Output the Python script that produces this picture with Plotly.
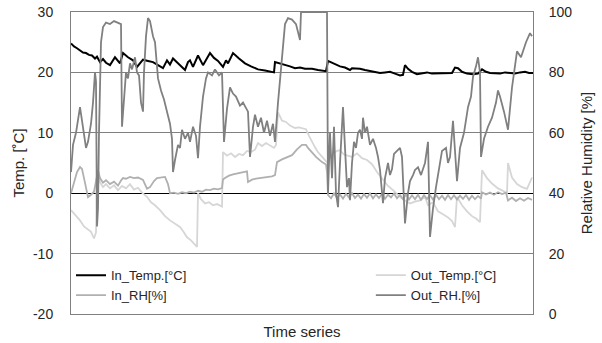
import plotly.graph_objects as go

# Readings as (time step, value) pairs; time steps are arbitrary sequential units
in_temp = [(0,24.8),(3,24.3),(6,24.0),(9,23.6),(12,23.3),(15,23.2),(18,22.9),(21,22.8),(24,22.3),(26,22.6),(29,21.7),(32,22.2),(35,21.6),(39,21.2),(44,22.5),(49,21.5),(52,23.2),(57,22.5),(62,22.0),(66,20.9),(72,22.1),(77,21.9),(82,21.7),(87,21.2),(92,20.7),(96,22.0),(99,21.3),(102,22.3),(107,21.5),(111,20.8),(114,20.4),(117,21.7),(119,22.0),(122,20.9),(127,22.8),(132,21.2),(139,23.2),(143,22.4),(147,21.9),(152,20.9),(155,22.0),(157,21.5),(162,23.2),(168,22.3),(174,21.5),(180,21.0),(187,20.5),(194,20.3),(199,20.2),(203,20.0),(204,21.7),(209,21.5),(214,21.2),(219,21.0),(224,20.7),(229,20.8),(234,20.6),(241,20.6),(247,20.4),(255,20.2),(257,21.9),(263,21.4),(269,21.0),(274,20.8),(279,20.4),(281,20.7),(285,20.7),(289,20.6),(294,20.4),(299,20.2),(304,20.0),(309,19.9),(314,20.0),(319,20.1),(324,19.8),(329,19.5),(332,19.6),(334,21.2),(337,20.6),(341,20.1),(346,19.7),(351,19.8),(356,20.0),(361,19.8),(366,19.8),(371,19.9),(376,19.8),(381,19.9),(384,20.8),(387,20.7),(391,20.1),(396,19.8),(402,19.7),(407,19.8),(411,20.5),(415,20.1),(419,19.9),(424,19.8),(429,19.8),(434,20.0),(439,19.9),(444,19.8),(449,20.0),(454,20.1),(458,19.9),(462,19.9)]

out_temp = [(0,-2.8),(4,-3.6),(9,-4.5),(13,-5.5),(17,-6.0),(20,-6.4),(23,-7.5),(25,-6.5),(26,3.8),(29,1.8),(32,1.0),(35,1.5),(39,0.8),(43,1.3),(47,0.5),(51,1.2),(55,0.8),(59,1.5),(63,0.6),(67,0.9),(71,0.1),(76,-0.6),(80,-1.5),(84,-2.0),(89,-2.8),(94,-3.8),(99,-4.5),(104,-5.0),(109,-5.6),(113,-6.5),(116,-7.3),(120,-7.8),(124,-8.6),(126,-8.9),(127,0.0),(130,-1.0),(134,-1.7),(138,-1.5),(142,-2.0),(146,-1.8),(151,-2.2),(152,6.8),(156,6.2),(160,6.6),(164,6.0),(168,6.5),(172,6.3),(176,7.0),(180,6.8),(184,7.2),(187,8.3),(191,7.8),(195,8.3),(199,7.9),(203,7.5),(205,8.0),(207,13.4),(211,12.0),(215,11.8),(219,11.2),(224,10.8),(228,10.9),(231,10.8),(235,10.6),(238,9.5),(241,8.4),(244,7.6),(247,6.8),(251,6.0),(256,5.1),(259,5.8),(262,6.6),(266,7.0),(269,7.1),(273,6.4),(277,6.2),(281,6.0),(286,6.6),(291,5.8),(296,5.5),(301,4.8),(306,3.5),(312,2.2),(317,1.2),(322,0.5),(329,-0.6),(334,-1.2),(339,-1.7),(344,-1.4),(349,-1.2),(354,-0.6),(357,-2.0),(362,-1.5),(367,-3.0),(372,-3.5),(377,-4.0),(381,-4.6),(384,-5.6),(386,-0.6),(391,-2.0),(396,-3.0),(401,-3.8),(405,-4.2),(409,-4.8),(411,3.8),(416,2.5),(421,1.6),(427,0.8),(433,0.3),(436,0.0),(437,5.0),(441,2.6),(446,1.5),(451,1.0),(456,0.7),(461,2.6)]

in_rh = [(0,40),(3,44),(6,47),(9,48.7),(11,48),(13,45),(15,42),(17,38.7),(20,39.5),(23,40.5),(25,44),(27,47.7),(29,45),(32,43.5),(35,44.3),(39,43),(43,43.8),(47,42.5),(50,44.2),(52,45),(55,44.8),(59,45.4),(63,45),(67,45.2),(72,44.4),(76,41.5),(79,42),(83,44),(86,45),(90,45.3),(94,45.4),(97,43),(99,40),(103,40.2),(107,39.8),(111,40.3),(115,40.0),(119,40.5),(123,40.2),(127,40.8),(131,40.5),(135,41.2),(139,41.0),(143,41.5),(147,41.3),(151,41.7),(152,44.5),(154,45),(158,45.8),(162,46.2),(166,46.5),(170,46.8),(174,47),(176,47.2),(177,43.7),(181,44.5),(185,44.8),(189,45.0),(193,45.2),(197,45.3),(201,45.6),(204,46),(206,50.3),(211,51.2),(216,52),(221,52.6),(226,54.5),(231,56),(235,56),(237,55),(241,53.5),(245,52),(251,50.3),(255,49.5),(256,47),(257,39.4),(260,38.3),(263,39.9),(266,38.5),(269,39.6),(272,38.2),(275,39.8),(278,38.6),(281,40.0),(284,38.4),(287,39.5),(290,38.2),(293,39.7),(296,38.5),(299,39.9),(302,38.3),(305,39.6),(308,38.4),(311,39.8),(314,38.1),(317,39.5),(320,38.6),(323,39.9),(326,38.3),(329,39.4),(332,38.0),(335,39.6),(338,37.9),(341,39.3),(344,38.0),(347,39.5),(350,37.8),(353,39.4),(356,38.1),(359,39.3),(362,37.9),(365,39.5),(368,38.0),(371,39.2),(374,37.8),(377,39.4),(380,38.0),(383,39.3),(386,37.9),(389,39.2),(392,38.1),(395,39.4),(398,37.8),(401,39.2),(404,38.0),(407,39.1),(410,38.2),(411,40.3),(415,39.6),(419,40.2),(423,39.5),(427,40.3),(431,39.7),(435,40.2),(437,37.6),(441,38.5),(445,37.4),(449,38.3),(453,37.5),(457,38.4),(461,37.8)]

out_rh = [(0,47),(2,56),(5,60),(9,68.5),(11,64),(13,60),(15,55),(17,57),(20,63),(22,70),(24,80),(25,77),(26,29),(27,35),(28,60),(30,90),(32,95),(35,96.5),(39,96),(43,97),(47,96.5),(50,96),(51,62),(53,72),(55,80),(57,78),(59,83),(61,81),(64,85),(66,80),(68,79),(70,70),(72,67),(73,80),(75,92),(77,98),(79,97),(82,92),(84,90),(86,82),(87,78),(90,74),(93,71),(96,67),(99,63),(101,58),(102,47),(104,51),(107,56),(109,55),(111,61),(114,58),(117,60),(119,57),(122,62),(125,59),(127,51.6),(129,62),(132,72),(135,78),(137,80),(141,79),(144,81),(148,79),(151,80),(153,57),(156,68),(159,75),(162,73),(165,72),(169,69),(172,70),(175,68),(177,67),(179,52),(182,62),(184,66),(187,62),(190,65),(193,60),(196,64),(199,59),(202,63),(204,57),(207,70),(210,82),(212,90),(214,96),(217,98),(221,97.5),(225,96),(229,90.7),(230,100),(256,100),(257,40),(259,60),(261,45),(263,62),(265,40),(267,35.4),(269,50),(271,60),(272,68.5),(274,55),(276,42),(278,45),(279,37.7),(281,50),(283,57),(285,55),(287,60),(289,61),(291,58),(292,65),(294,60),(296,62),(299,56),(302,58),(305,55),(307,52),(309,47.7),(312,36.7),(314,45),(317,50),(319,46),(321,48),(323,53),(326,54),(329,55),(331,52),(334,30),(337,40),(339,44),(342,46),(344,47.7),(347,48.6),(350,46),(354,50),(357,57),(359,25.5),(362,35),(365,42),(369,50),(371,54),(375,55),(377,50),(379,52),(382,64),(386,44),(389,55),(393,60),(397,68.5),(400,72),(402,78.5),(405,82),(407,85),(409,80),(410,52),(413,58),(417,62),(421,65),(425,70),(427,74),(429,72),(433,67),(437,61),(441,75),(446,87),(450,85),(455,90),(459,93),(461,92)]

temp_ticks = [-20, -10, 0, 10, 20, 30]
temp_tick_labels = ["-20", "-10", "0", "10", "20", "30"]
rh_ticks = [0, 20, 40, 60, 80, 100]

FONT = "Liberation Sans"


def split(pairs):
    return [p[0] for p in pairs], [p[1] for p in pairs]


fig = go.Figure()
t, v = split(in_temp)
fig.add_trace(go.Scatter(x=t, y=v, name="In_Temp.[°C]", mode="lines",
                         line=dict(color="#000000", width=2), legend="legend"))
t, v = split(out_temp)
fig.add_trace(go.Scatter(x=t, y=v, name="Out_Temp.[°C]", mode="lines",
                         line=dict(color="#D6D6D6", width=1.8), legend="legend2"))
t, v = split(in_rh)
fig.add_trace(go.Scatter(x=t, y=v, name="In_RH[%]", mode="lines", yaxis="y2",
                         line=dict(color="#B0B0B0", width=1.8), legend="legend"))
t, v = split(out_rh)
fig.add_trace(go.Scatter(x=t, y=v, name="Out_RH.[%]", mode="lines", yaxis="y2",
                         line=dict(color="#808080", width=1.8), legend="legend2"))

legend_common = dict(xref="paper", yref="paper", yanchor="top", xanchor="left",
                     bgcolor="rgba(0,0,0,0)", font=dict(family=FONT, size=13, color="#262626"),
                     orientation="v", itemwidth=30, tracegroupgap=0)

fig.update_layout(
    width=602, height=343,
    margin=dict(l=71, r=69, t=12, b=29, autoexpand=False),
    paper_bgcolor="white", plot_bgcolor="white",
    font=dict(family=FONT, size=14, color="#262626"),
    showlegend=True,
    legend=dict(x=0.0, y=0.178, **legend_common),
    legend2=dict(x=0.649, y=0.178, **legend_common),
    xaxis=dict(range=[0, 462], showticklabels=False, showgrid=False, zeroline=False,
               showline=True, linecolor="#808080", linewidth=1, mirror=True,
               title=dict(text="Time series", font=dict(size=15), standoff=12)),
    yaxis=dict(range=[-20, 30], tickvals=temp_ticks, ticktext=temp_tick_labels,
               showgrid=True, gridcolor="#808080", gridwidth=1,
               zeroline=True, zerolinecolor="#000000", zerolinewidth=1,
               showline=True, linecolor="#808080", linewidth=1,
               ticks="", ticklabelstandoff=14,
               title=dict(text="Temp. [˚C]", font=dict(size=15), standoff=4)),
    yaxis2=dict(range=[0, 100], tickvals=rh_ticks, overlaying="y", side="right", showgrid=False,
                zeroline=False, showline=True, linecolor="#808080", linewidth=1,
                ticks="", ticklabelstandoff=12,
                title=dict(text="Relative Humidity [%]", font=dict(size=15), standoff=10)),
)

fig.write_html("out.html", config={"displayModeBar": False},
               post_script="document.body.style.margin='0';")
